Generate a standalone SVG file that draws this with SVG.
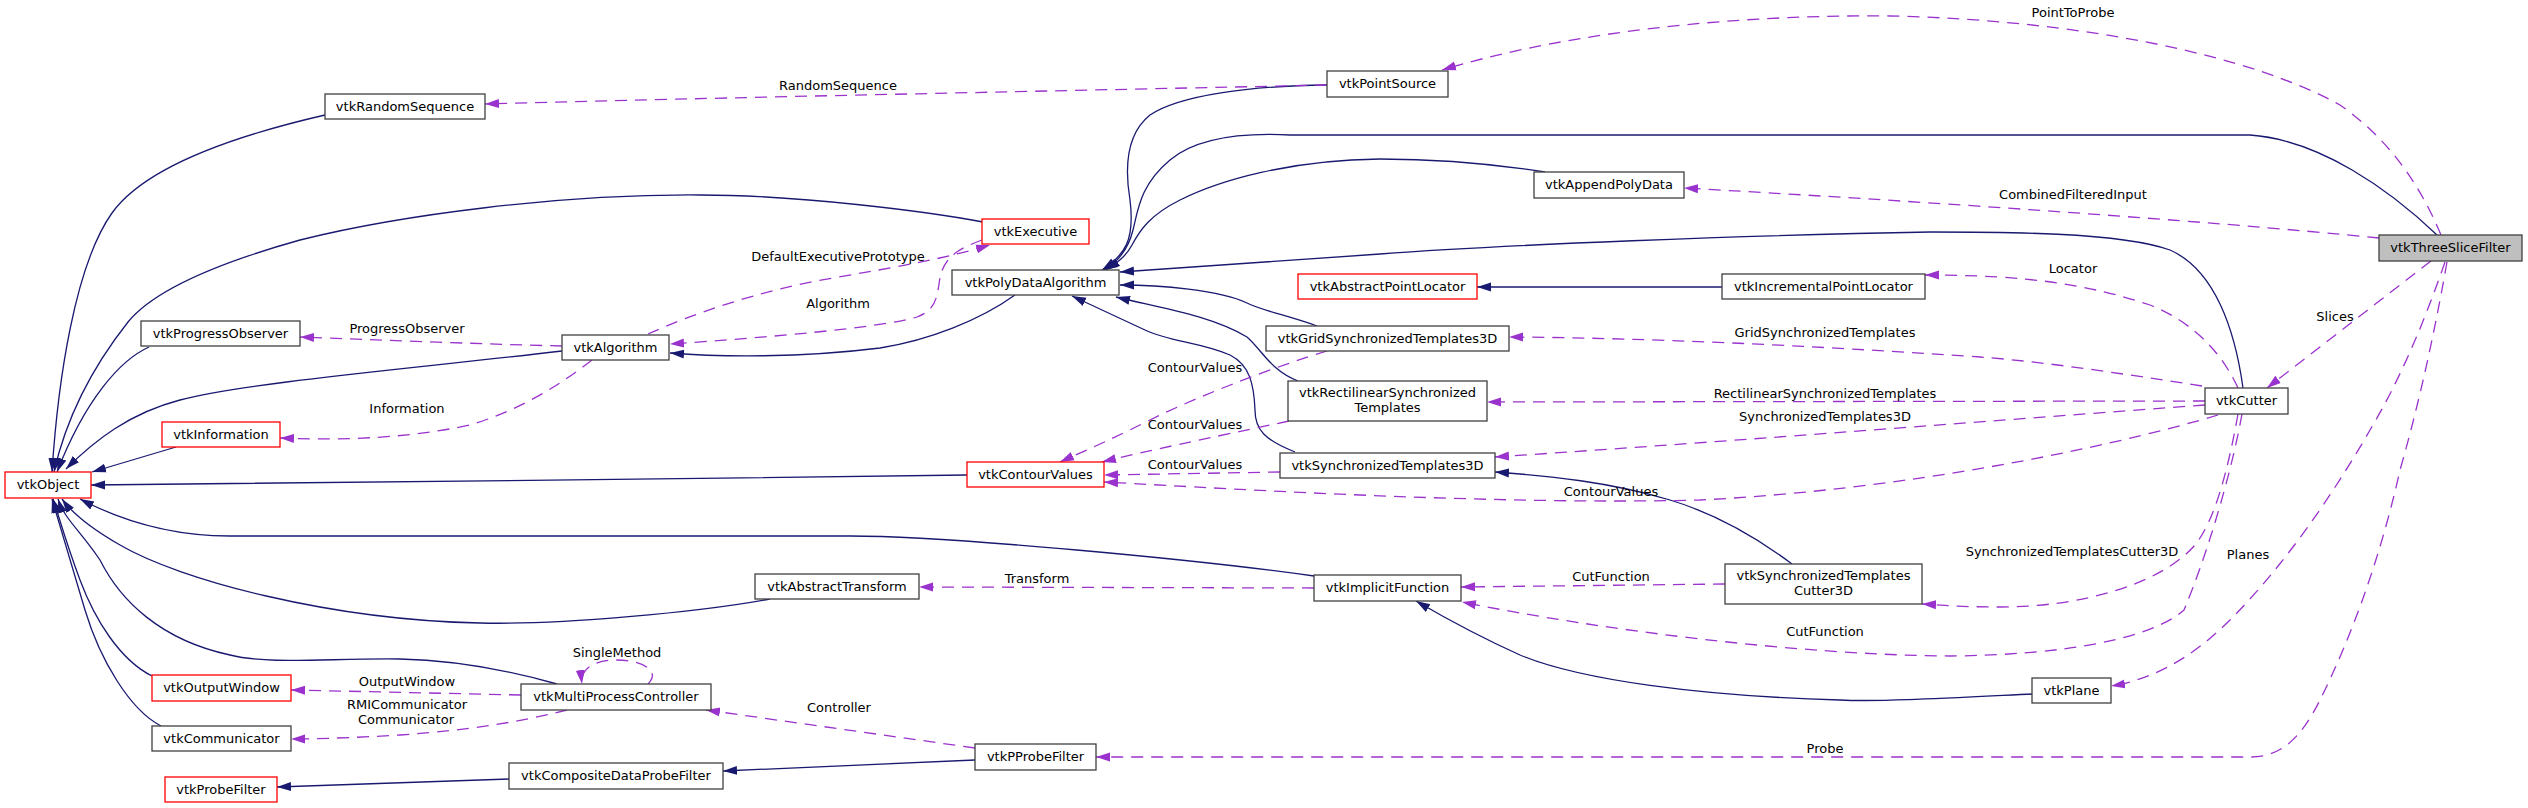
<svg xmlns="http://www.w3.org/2000/svg" width="2528" height="808" viewBox="0 0 2528 808">
<style>
.n rect{fill:#fff;stroke:#404040;stroke-width:1.3}
.n.r rect{stroke:#ff0000}
.n.g rect{fill:#bfbfbf}
text{font-family:"DejaVu Sans","Liberation Sans",sans-serif;font-size:13px;fill:#000}
.n text{text-anchor:middle}
.lb text{text-anchor:middle}
.s{fill:none;stroke:#191970;stroke-width:1.3;marker-end:url(#as)}
.d{fill:none;stroke:#9a32cd;stroke-width:1.3;stroke-dasharray:12,8;marker-end:url(#ad)}
</style>
<defs>
<marker id="as" markerUnits="userSpaceOnUse" markerWidth="15" markerHeight="11" refX="14" refY="5" orient="auto"><path d="M0,0.5 L14,5 L0,9.5 z" fill="#191970" stroke="none"/></marker>
<marker id="ad" markerUnits="userSpaceOnUse" markerWidth="15" markerHeight="11" refX="14" refY="5" orient="auto"><path d="M0,0.5 L14,5 L0,9.5 z" fill="#9a32cd" stroke="none"/></marker>
</defs>
<rect width="2528" height="808" fill="#fff"/>
<g id="edges">
<path class="s" d="M325,115 C260,130 150,160 112,213 C75,265 58,380 52,472"/>
<path class="s" d="M983,222 C930,212 800,195 700,195 C560,194 400,215 300,240 C200,268 150,295 128,322 C98,360 68,410 54,472"/>
<path class="s" d="M149,347 C120,360 85,400 57,472"/>
<path class="s" d="M562,351 C420,368 250,382 180,400 C130,413 95,440 66,469"/>
<path class="s" d="M176,447 L92,472"/>
<path class="s" d="M967,475 C700,478 300,484 91,485"/>
<path class="s" d="M1314,576 C1200,560 950,536 850,536 L230,536 C170,536 120,520 80,499"/>
<path class="s" d="M770,599 C700,612 560,625 480,623 C330,620 180,580 120,545 C85,525 70,510 62,499"/>
<path class="s" d="M557,684 C500,668 450,660 400,659 C330,658 270,665 230,655 C160,640 120,600 100,560 C80,530 65,520 58,499"/>
<path class="s" d="M152,676 C120,660 95,620 80,580 C65,540 57,510 53,499"/>
<path class="s" d="M161,726 C130,710 100,660 85,610 C70,560 58,520 52,499"/>
<path class="s" d="M1015,295 C980,320 930,340 880,348 C800,358 720,357 670,353"/>
<path class="s" d="M1327,85 C1250,86 1180,95 1150,115 C1125,135 1125,170 1130,200 C1135,240 1125,255 1102,270"/>
<path class="s" d="M2437,235 C2390,190 2320,140 2250,135 L1290,135 C1250,133 1200,135 1170,160 C1140,185 1138,210 1133,230 C1128,250 1118,262 1104,270"/>
<path class="s" d="M1545,172 C1500,165 1440,159 1380,159 C1290,160 1220,180 1180,200 C1150,215 1140,230 1132,245 C1125,258 1115,264 1106,270"/>
<path class="s" d="M2243,388 C2235,330 2215,270 2170,250 C2120,232 2000,232 1930,232 C1750,235 1500,245 1380,254 L1120,272"/>
<path class="s" d="M1317,326 C1290,316 1260,310 1247,303 C1220,290 1160,285 1120,285"/>
<path class="s" d="M1298,381 C1270,370 1262,350 1247,337 C1210,315 1160,308 1116,297"/>
<path class="s" d="M1295,452 C1265,440 1255,430 1255,410 C1254,385 1250,365 1230,355 C1200,342 1170,342 1145,330 L1072,296"/>
<path class="s" d="M1722,287 L1477,287"/>
<path class="s" d="M1792,564 C1760,540 1720,515 1670,500 C1610,482 1550,476 1495,472"/>
<path class="s" d="M2033,694 C1950,698 1880,702 1840,700 C1700,696 1580,680 1520,655 C1480,637 1440,615 1416,601"/>
<path class="s" d="M509,779 L277,787"/>
<path class="s" d="M975,760 L723,771"/>
<path class="d" d="M1327,85 C1100,90 700,98 485,104"/>
<path class="d" d="M2441,235 C2420,185 2390,140 2340,105 C2250,55 2080,20 1890,16 C1700,14 1540,40 1442,70"/>
<path class="d" d="M2379,238 C2200,220 1900,200 1684,188"/>
<path class="d" d="M2238,388 C2225,360 2200,325 2150,305 C2090,285 2030,275 1925,275"/>
<path class="d" d="M2202,386 C2150,378 2050,362 1980,357 C1800,345 1650,338 1509,337"/>
<path class="d" d="M2205,401 L1487,402"/>
<path class="d" d="M2205,405 C2000,420 1750,440 1495,457"/>
<path class="d" d="M2218,415 C2100,450 1900,490 1700,500 C1500,505 1250,490 1104,482"/>
<path class="d" d="M1280,472 L1104,475"/>
<path class="d" d="M1289,421 C1200,440 1150,450 1102,462"/>
<path class="d" d="M1327,351 C1280,365 1200,395 1150,420 C1100,445 1075,455 1060,462"/>
<path class="d" d="M1725,584 L1461,587"/>
<path class="d" d="M2242,414 C2230,480 2205,560 2184,610 C2150,640 2060,655 1950,656 C1800,655 1600,630 1462,602"/>
<path class="d" d="M2238,414 C2228,470 2215,520 2195,545 C2160,585 2080,607 2000,607 C1960,607 1940,605 1922,604"/>
<path class="d" d="M2431,261 L2267,388"/>
<path class="d" d="M2445,262 C2425,320 2400,380 2370,430 C2330,500 2280,570 2230,620 C2190,660 2150,680 2111,686"/>
<path class="d" d="M2447,262 C2435,330 2420,400 2400,470 C2380,560 2350,640 2320,700 C2300,740 2280,757 2250,757 L1096,757"/>
<path class="d" d="M648,334 C690,315 760,290 833,278 C890,268 940,260 990,245"/>
<path class="d" d="M982,240 C955,250 945,258 940,277 C937,300 935,310 917,317 C880,328 760,338 670,344"/>
<path class="d" d="M562,346 C480,344 380,340 300,337"/>
<path class="d" d="M592,360 C560,385 520,410 470,425 C400,440 330,440 280,438"/>
<path class="d" d="M521,695 L291,690"/>
<path class="d" d="M567,710 C520,722 470,730 400,735 C350,738 310,739 291,739"/>
<path class="d" d="M648,684 C662,670 640,660 617,660 C595,660 580,668 582,684"/>
<path class="d" d="M975,748 L706,710"/>
<path class="d" d="M1314,588 L919,587"/>
</g>
<g id="labels" class="lb">
<text x="838" y="90">RandomSequence</text>
<text x="2073" y="17">PointToProbe</text>
<text x="2073" y="199">CombinedFilteredInput</text>
<text x="2073" y="273">Locator</text>
<text x="2335" y="321">Slices</text>
<text x="1825" y="337">GridSynchronizedTemplates</text>
<text x="1825" y="398">RectilinearSynchronizedTemplates</text>
<text x="1825" y="421">SynchronizedTemplates3D</text>
<text x="1611" y="496">ContourValues</text>
<text x="2072" y="556">SynchronizedTemplatesCutter3D</text>
<text x="2248" y="559">Planes</text>
<text x="1611" y="581">CutFunction</text>
<text x="1825" y="636">CutFunction</text>
<text x="1825" y="753">Probe</text>
<text x="1195" y="372">ContourValues</text>
<text x="1195" y="429">ContourValues</text>
<text x="1195" y="469">ContourValues</text>
<text x="838" y="261">DefaultExecutivePrototype</text>
<text x="838" y="308">Algorithm</text>
<text x="407" y="333">ProgressObserver</text>
<text x="407" y="413">Information</text>
<text x="407" y="686">OutputWindow</text>
<text x="407" y="709">RMICommunicator</text>
<text x="406" y="724">Communicator</text>
<text x="617" y="657">SingleMethod</text>
<text x="839" y="712">Controller</text>
<text x="1037" y="583">Transform</text>
</g>
<g id="vtkThreeSliceFilter" class="n g"><rect x="2379" y="235" width="143" height="26"/><text x="2450.5" y="252">vtkThreeSliceFilter</text></g>
<g id="vtkPointSource" class="n"><rect x="1327" y="71" width="121" height="26"/><text x="1387.5" y="88">vtkPointSource</text></g>
<g id="vtkRandomSequence" class="n"><rect x="325" y="94" width="160" height="25"/><text x="405" y="111">vtkRandomSequence</text></g>
<g id="vtkProgressObserver" class="n"><rect x="141" y="321" width="159" height="25"/><text x="220.5" y="338">vtkProgressObserver</text></g>
<g id="vtkAlgorithm" class="n"><rect x="562" y="335" width="107" height="25"/><text x="615.5" y="352">vtkAlgorithm</text></g>
<g id="vtkInformation" class="n r"><rect x="162" y="422" width="118" height="25"/><text x="221" y="439">vtkInformation</text></g>
<g id="vtkObject" class="n r"><rect x="5" y="472" width="86" height="26"/><text x="48" y="489">vtkObject</text></g>
<g id="vtkOutputWindow" class="n r"><rect x="152" y="675" width="139" height="26"/><text x="221.5" y="692">vtkOutputWindow</text></g>
<g id="vtkCommunicator" class="n"><rect x="152" y="726" width="139" height="25"/><text x="221.5" y="743">vtkCommunicator</text></g>
<g id="vtkProbeFilter" class="n r"><rect x="165" y="777" width="112" height="25"/><text x="221" y="794">vtkProbeFilter</text></g>
<g id="vtkMultiProcessController" class="n"><rect x="521" y="684" width="190" height="26"/><text x="616" y="701">vtkMultiProcessController</text></g>
<g id="vtkCompositeDataProbeFilter" class="n"><rect x="509" y="763" width="214" height="26"/><text x="616" y="780">vtkCompositeDataProbeFilter</text></g>
<g id="vtkExecutive" class="n r"><rect x="982" y="219" width="107" height="25"/><text x="1035.5" y="236">vtkExecutive</text></g>
<g id="vtkPolyDataAlgorithm" class="n"><rect x="952" y="270" width="167" height="25"/><text x="1035.5" y="287">vtkPolyDataAlgorithm</text></g>
<g id="vtkAbstractPointLocator" class="n r"><rect x="1298" y="274" width="179" height="25"/><text x="1387.5" y="291">vtkAbstractPointLocator</text></g>
<g id="vtkIncrementalPointLocator" class="n"><rect x="1722" y="274" width="203" height="25"/><text x="1823.5" y="291">vtkIncrementalPointLocator</text></g>
<g id="vtkAppendPolyData" class="n"><rect x="1534" y="172" width="150" height="26"/><text x="1609" y="189">vtkAppendPolyData</text></g>
<g id="vtkGridSynchronizedTemplates3D" class="n"><rect x="1266" y="326" width="243" height="25"/><text x="1387.5" y="343">vtkGridSynchronizedTemplates3D</text></g>
<g id="vtkRectilinearSynchronizedTemplates" class="n"><rect x="1288" y="381" width="199" height="40"/><text x="1387.5" y="397">vtkRectilinearSynchronized</text><text x="1387.5" y="412">Templates</text></g>
<g id="vtkSynchronizedTemplates3D" class="n"><rect x="1280" y="453" width="215" height="25"/><text x="1387.5" y="470">vtkSynchronizedTemplates3D</text></g>
<g id="vtkContourValues" class="n r"><rect x="967" y="462" width="137" height="25"/><text x="1035.5" y="479">vtkContourValues</text></g>
<g id="vtkAbstractTransform" class="n"><rect x="755" y="574" width="164" height="25"/><text x="837" y="591">vtkAbstractTransform</text></g>
<g id="vtkImplicitFunction" class="n"><rect x="1314" y="575" width="147" height="26"/><text x="1387.5" y="592">vtkImplicitFunction</text></g>
<g id="vtkSynchronizedTemplatesCutter3D" class="n"><rect x="1725" y="564" width="197" height="40"/><text x="1823.5" y="580">vtkSynchronizedTemplates</text><text x="1823.5" y="595">Cutter3D</text></g>
<g id="vtkPlane" class="n"><rect x="2032" y="678" width="79" height="25"/><text x="2071.5" y="695">vtkPlane</text></g>
<g id="vtkCutter" class="n"><rect x="2205" y="388" width="83" height="26"/><text x="2246.5" y="405">vtkCutter</text></g>
<g id="vtkPProbeFilter" class="n"><rect x="975" y="744" width="121" height="26"/><text x="1035.5" y="761">vtkPProbeFilter</text></g>
</svg>
